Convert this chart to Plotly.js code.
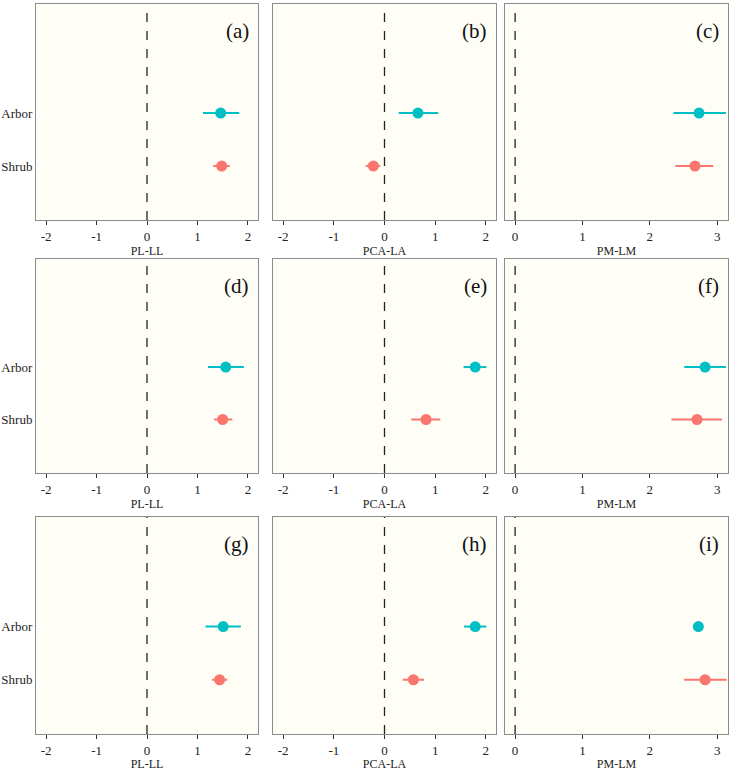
<!DOCTYPE html>
<html>
<head>
<meta charset="utf-8">
<script src="https://cdn.plot.ly/plotly-3.0.1.min.js"></script>
<style>html,body{margin:0;padding:0;background:#fff;}#chart{width:733px;height:771px;}</style>
</head>
<body>
<div id="chart"></div>
<script>
// Data (panels a..i, row by row)
var panelLabels = ['(a)','(b)','(c)','(d)','(e)','(f)','(g)','(h)','(i)'];
var xTitles = ['PL-LL','PCA-LA','PM-LM'];
var groups = ['Shrub','Arbor'];
var arborMean = [1.46, 0.66, 2.73, 1.56, 1.79, 2.82, 1.51, 1.79, 2.72];
var arborLo   = [1.11, 0.28, 2.35, 1.21, 1.56, 2.51, 1.16, 1.57, 2.72];
var arborHi   = [1.83, 1.06, 3.13, 1.92, 2.01, 3.13, 1.86, 2.01, 2.72];
var shrubMean = [1.48, -0.22, 2.67, 1.50, 0.82, 2.70, 1.44, 0.57, 2.82];
var shrubLo   = [1.31, -0.37, 2.38, 1.33, 0.53, 2.32, 1.29, 0.36, 2.51];
var shrubHi   = [1.64, -0.085, 2.94, 1.69, 1.10, 3.07, 1.59, 0.78, 3.14];
var xTicks = [[-2,-1,0,1,2],[-2,-1,0,1,2],[0,1,2,3]];
var xTickText = [['-2','-1','0','1','2'],['-2','-1','0','1','2'],['0','1','2','3']];
var xRanges = [[-2.2,2.2],[-2.2,2.2],[-0.15,3.16]];

var W = 733, H = 771;
var colPx = [[36,258],[273,496],[505,728]];
var rowPx = [[4,220],[259,473],[517,734]];
var arborColor = '#00BFC4', shrubColor = '#F8766D';
var font = "'Liberation Serif', 'Times New Roman', serif";

var traces = [], layout = {
  width: W, height: H, margin: {l:0,r:0,t:0,b:0},
  paper_bgcolor: '#ffffff', showlegend: false,
  font: {family: font},
  shapes: [], annotations: []
};

for (var i = 0; i < 9; i++) {
  var r = Math.floor(i/3), c = i % 3, n = i + 1;
  var xa = 'xaxis' + (n === 1 ? '' : n), ya = 'yaxis' + (n === 1 ? '' : n);
  var xr = 'x' + (n === 1 ? '' : n), yr = 'y' + (n === 1 ? '' : n);
  layout[xa] = {
    domain: [colPx[c][0]/W, colPx[c][1]/W], anchor: yr,
    range: xRanges[c], tickvals: xTicks[c], ticktext: xTickText[c], ticks: 'outside', ticklen: 4,
    tickcolor: '#333', tickwidth: 1, showgrid: false, zeroline: false,
    showline: true, linecolor: '#8c8c8c', linewidth: 1, mirror: true,
    tickfont: {family: font, size: 13, color: '#222'},
    title: {text: xTitles[c], font: {family: font, size: 12, color: '#222'}, standoff: 4},
    fixedrange: true
  };
  layout[ya] = {
    domain: [1 - rowPx[r][1]/H, 1 - rowPx[r][0]/H], anchor: xr,
    range: [-0.02, 4.06], tickvals: [1,2], ticktext: groups,
    showticklabels: c === 0, ticks: '', showgrid: false, zeroline: false,
    showline: true, linecolor: '#8c8c8c', linewidth: 1, mirror: true,
    tickfont: {family: font, size: 13, color: '#222'}, fixedrange: true
  };
  layout.shapes.push({type:'rect', xref: xr + ' domain', yref: yr + ' domain', x0:0, x1:1, y0:0, y1:1,
    fillcolor:'#FEFEF6', line:{width:0}, layer:'below'});
  layout.shapes.push({type:'line', xref: xr, yref: yr + ' domain', x0:0, x1:0, y0:0, y1:1,
    line:{color:'#222', width:1.3, dash:'dash'}, layer:'below'});
  layout.annotations.push({xref: xr + ' domain', yref: yr + ' domain', x:1, y:1,
    xanchor:'right', yanchor:'top', xshift:-7, yshift:-13, showarrow:false,
    text: panelLabels[i], font:{family: font, size: 21, color:'#111'}});
  traces.push({
    type:'scatter', mode:'markers', xaxis: xr, yaxis: yr,
    x:[arborMean[i]], y:[2], cliponaxis: true,
    marker:{color: arborColor, size: 11},
    error_x:{type:'data', symmetric:false, array:[arborHi[i]-arborMean[i]], arrayminus:[arborMean[i]-arborLo[i]],
      color: arborColor, thickness: 2, width: 0}
  });
  traces.push({
    type:'scatter', mode:'markers', xaxis: xr, yaxis: yr,
    x:[shrubMean[i]], y:[1], cliponaxis: true,
    marker:{color: shrubColor, size: 11},
    error_x:{type:'data', symmetric:false, array:[shrubHi[i]-shrubMean[i]], arrayminus:[shrubMean[i]-shrubLo[i]],
      color: shrubColor, thickness: 2, width: 0}
  });
}

Plotly.newPlot('chart', traces, layout, {staticPlot: true, displayModeBar: false});
</script>
</body>
</html>
